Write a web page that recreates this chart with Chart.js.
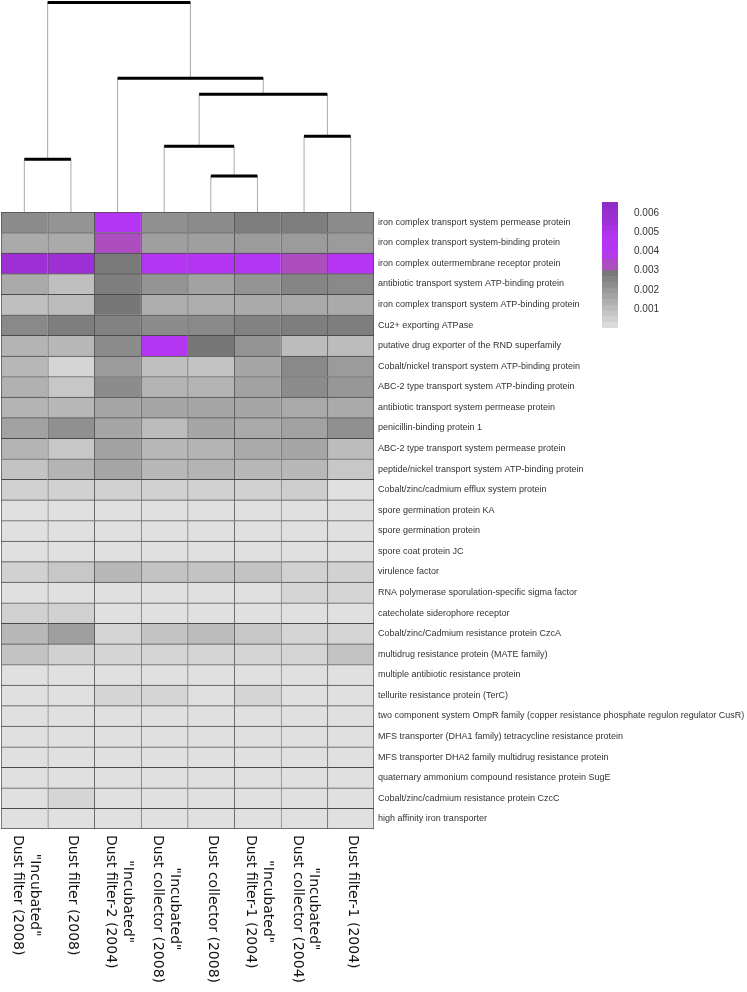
<!DOCTYPE html>
<html>
<head>
<meta charset="utf-8">
<script src="https://cdn.jsdelivr.net/npm/chart.js@4.4.1/dist/chart.umd.min.js"></script>
<style>
html,body{margin:0;padding:0;background:#fff;}
#wrap{position:relative;width:747px;height:992px;overflow:hidden;}
.layer{position:absolute;left:0;top:0;width:747px;height:992px;}
canvas{display:block;}
</style>
</head>
<body>
<div id="wrap">
  <div class="layer"><canvas id="heat" width="747" height="992"></canvas></div>
  <div class="layer"><canvas id="dend" width="747" height="992"></canvas></div>
  <div class="layer"><canvas id="scale" width="747" height="992"></canvas></div>
</div>
<script>
// ---------------- DATA ----------------
const sampleLabels = [
  ['"Incubated"', 'Dust filter (2008)'],
  ['Dust filter (2008)'],
  ['"Incubated"', 'Dust filter-2 (2004)'],
  ['"Incubated"', 'Dust collector (2008)'],
  ['Dust collector (2008)'],
  ['"Incubated"', 'Dust filter-1 (2004)'],
  ['"Incubated"', 'Dust collector (2004)'],
  ['Dust filter-1 (2004)']
];

const geneLabels = [
  'iron complex transport system permease protein',
  'iron complex transport system-binding protein',
  'iron complex outermembrane receptor protein',
  'antibiotic transport system ATP-binding protein',
  'iron complex transport system ATP-binding protein',
  'Cu2+ exporting ATPase',
  'putative drug exporter of the RND superfamily',
  'Cobalt/nickel transport system ATP-binding protein',
  'ABC-2 type transport system ATP-binding protein',
  'antibiotic transport system permease protein',
  'penicillin-binding protein 1',
  'ABC-2 type transport system permease protein',
  'peptide/nickel transport system ATP-binding protein',
  'Cobalt/zinc/cadmium efflux system protein',
  'spore germination protein KA',
  'spore germination protein',
  'spore coat protein JC',
  'virulence factor',
  'RNA polymerase sporulation-specific sigma factor',
  'catecholate siderophore receptor',
  'Cobalt/zinc/Cadmium resistance protein CzcA',
  'multidrug resistance protein (MATE family)',
  'multiple antibiotic resistance protein',
  'tellurite resistance protein (TerC)',
  'two component system OmpR family (copper resistance phosphate regulon regulator CusR)',
  'MFS transporter (DHA1 family) tetracycline resistance protein',
  'MFS transporter DHA2 family multidrug resistance protein',
  'quaternary ammonium compound resistance protein SugE',
  'Cobalt/zinc/cadmium resistance protein CzcC',
  'high affinity iron transporter'
];

// relative abundance per sample (column), one value per gene (row order above)
const incDustFilter2008 = [0.0023,0.0015,0.0057,0.0015,0.0009,0.0024,0.0012,0.0011,0.0013,0.0012,0.0017,0.0012,0.0008,0.0004,0,0,0,0.0004,0,0.0004,0.0011,0.0008,0,0,0,0,0,0,0,0];
const dustFilter2008    = [0.0021,0.0015,0.0057,0.0009,0.0010,0.0027,0.0011,0.0003,0.0007,0.0011,0.0022,0.0007,0.0012,0.0004,0,0,0,0.0007,0,0.0004,0.0018,0.0004,0,0,0,0,0,0,0.0003,0];
const incDustFilter2_2004 = [0.0045,0.0033,0.0028,0.0027,0.0029,0.0026,0.0023,0.0019,0.0023,0.0016,0.0016,0.0017,0.0016,0.0004,0,0,0,0.0011,0,0,0.0003,0.0003,0,0.0003,0,0,0,0,0,0];
const incDustCollector2008 = [0.0022,0.0018,0.0045,0.0021,0.0014,0.0023,0.0043,0.0009,0.0012,0.0016,0.0010,0.0011,0.0011,0.0004,0,0,0,0.0008,0,0,0.0008,0.0003,0,0.0003,0,0,0,0,0,0];
const dustCollector2008 = [0.0023,0.0018,0.0046,0.0017,0.0014,0.0024,0.0029,0.0008,0.0012,0.0016,0.0016,0.0012,0.0012,0.0004,0,0,0,0.0008,0,0,0.0010,0.0003,0,0,0,0,0,0,0,0];
const incDustFilter1_2004 = [0.0027,0.0019,0.0045,0.0021,0.0015,0.0026,0.0021,0.0016,0.0017,0.0016,0.0015,0.0015,0.0011,0.0004,0,0,0,0.0008,0,0,0.0007,0.0003,0,0.0003,0,0,0,0,0,0];
const incDustCollector2004 = [0.0027,0.0019,0.0033,0.0025,0.0015,0.0027,0.0010,0.0024,0.0023,0.0015,0.0017,0.0016,0.0011,0.0005,0,0,0,0.0004,0.0003,0,0.0003,0.0003,0,0,0,0,0,0,0,0];
const dustFilter1_2004  = [0.0023,0.0019,0.0044,0.0024,0.0015,0.0027,0.0010,0.0019,0.0020,0.0015,0.0022,0.0010,0.0007,0,0,0,0,0.0004,0.0003,0,0.0003,0.0008,0,0,0,0,0,0,0,0];

const sampleValues = [incDustFilter2008, dustFilter2008, incDustFilter2_2004, incDustCollector2008,
                      dustCollector2008, incDustFilter1_2004, incDustCollector2004, dustFilter1_2004];

// column dendrogram (hclust style: negative = leaf number, positive = earlier merge)
const mergeA = [-5, -4, -7, -1, 2, -3, 4];
const mergeB = [-6,  1, -8, -2, 3,  5, 6];
const mergeHeight = [0.36, 0.66, 0.76, 0.53, 1.18, 1.34, 2.10];

// colour key
const keyTicks = [0.001, 0.002, 0.003, 0.004, 0.005, 0.006];
const keyMax = 0.0066;
const keyStep = 0.0003;

// ---------------- COLOURS ----------------
const purpleStops = [
  [0.0030, [168, 84, 182]],
  [0.0036, [176, 70, 202]],
  [0.0038, [180, 56, 240]],
  [0.0047, [181, 52, 245]],
  [0.0055, [160, 48, 216]],
  [0.0066, [142, 42, 196]]
];
function colorFor(v) {
  if (v < 0.003) {
    const L = Math.round(224 - (v / 0.003) * 109);
    return `rgb(${L},${L},${L})`;
  }
  for (let i = 1; i < purpleStops.length; i++) {
    if (v <= purpleStops[i][0]) {
      const [v0, c0] = purpleStops[i - 1], [v1, c1] = purpleStops[i];
      const t = (v - v0) / (v1 - v0);
      const c = c0.map((a, k) => Math.round(a + (c1[k] - a) * t));
      return `rgb(${c[0]},${c[1]},${c[2]})`;
    }
  }
  const c = purpleStops[purpleStops.length - 1][1];
  return `rgb(${c[0]},${c[1]},${c[2]})`;
}

Chart.defaults.font.family = '"Liberation Sans", Arial, sans-serif';
Chart.defaults.animation = false;

// ---------------- HEATMAP ----------------
const GRID_LEFT = 1, GRID_RIGHT = 374, GRID_TOP = 212, GRID_BOTTOM = 829, W = 747, H = 992;

const colLabelPlugin = {
  id: 'colLabels',
  afterDraw(chart) {
    const ctx = chart.ctx, xs = chart.scales.x;
    ctx.save();
    ctx.font = '14px "DejaVu Sans", sans-serif';
    ctx.fillStyle = '#111';
    ctx.textAlign = 'center';
    ctx.textBaseline = 'middle';
    sampleLabels.forEach((lines, c) => {
      const cx = xs.getPixelForValue(c + 0.5);
      const maxW = Math.max(...lines.map(l => ctx.measureText(l).width));
      const cy = GRID_BOTTOM + 6 + maxW / 2;
      const offs = lines.length === 1 ? [1.5] : [10, -6.5];
      lines.forEach((line, i) => {
        ctx.save();
        ctx.translate(cx + offs[i], cy);
        ctx.rotate(Math.PI / 2);
        ctx.fillText(line, 0, 0);
        ctx.restore();
      });
    });
    ctx.restore();
  }
};

new Chart(document.getElementById('heat'), {
  type: 'bar',
  data: {
    labels: geneLabels,
    datasets: sampleValues.map((vals, c) => ({
      label: sampleLabels[c].join(' '),
      data: vals.map(() => [c, c + 1]),
      backgroundColor: vals.map(colorFor),
      borderColor: '#4a4a4a',
      borderWidth: (ctx) => ({ left: 1, top: 1, right: c === 7 ? 1 : 0, bottom: ctx.dataIndex === vals.length - 1 ? 1 : 0 }),
      borderSkipped: false,
      grouped: false,
      barPercentage: 1,
      categoryPercentage: 1
    }))
  },
  options: {
    indexAxis: 'y',
    responsive: false,
    layout: { padding: { left: GRID_LEFT, top: GRID_TOP, bottom: H - GRID_BOTTOM, right: 0 } },
    plugins: { legend: { display: false }, tooltip: { enabled: false } },
    scales: {
      x: { type: 'linear', min: 0, max: 8, display: false },
      y: {
        type: 'category',
        position: 'right',
        grid: { display: false, drawTicks: false },
        border: { display: false },
        ticks: { autoSkip: false, padding: 4, color: '#333', font: { size: 9 } },
        afterFit: (axis) => { axis.width = W - GRID_RIGHT; }
      }
    }
  },
  plugins: [colLabelPlugin]
});

// ---------------- DENDROGRAM ----------------
function nodeX(id) { return id < 0 ? (-id - 0.5) : mergeX[id - 1]; }
function nodeH(id) { return id < 0 ? 0 : mergeHeight[id - 1]; }
const mergeX = [];
const dendSets = [];
mergeA.forEach((a, i) => {
  const b = mergeB[i], h = mergeHeight[i];
  const xa = nodeX(a), xb = nodeX(b);
  mergeX.push((xa + xb) / 2);
  [[xa, nodeH(a)], [xb, nodeH(b)]].forEach(([x, y0]) => {
    dendSets.push({ data: [{ x, y: y0 }, { x, y: h }], borderColor: '#a9a9a9', borderWidth: 1, order: 2 });
  });
  dendSets.push({ data: [{ x: xa, y: h }, { x: xb, y: h }], borderColor: '#000', borderWidth: 3, order: 1 });
});
dendSets.forEach(d => { d.showLine = true; d.pointRadius = 0; d.clip = false; d.borderCapStyle = 'butt'; });

new Chart(document.getElementById('dend'), {
  type: 'scatter',
  data: { datasets: dendSets },
  options: {
    responsive: false,
    layout: { padding: { left: GRID_LEFT, right: W - GRID_RIGHT, top: 2.5, bottom: H - GRID_TOP } },
    plugins: { legend: { display: false }, tooltip: { enabled: false } },
    scales: {
      x: { type: 'linear', min: 0, max: 8, display: false },
      y: { type: 'linear', min: 0, max: mergeHeight[mergeHeight.length - 1], display: false }
    }
  }
});

// ---------------- COLOUR KEY ----------------
const keyBands = [];
for (let lo = 0; lo < keyMax - 1e-9; lo += keyStep) keyBands.push([lo, Math.min(lo + keyStep, keyMax)]);
const KEY_L = 602, KEY_R = 618, KEY_T = 202, KEY_B = 328, KEY_AXIS = 50;

new Chart(document.getElementById('scale'), {
  type: 'bar',
  data: {
    labels: ['key'],
    datasets: keyBands.map(([lo, hi]) => ({
      data: [[lo, hi]],
      backgroundColor: colorFor((lo + hi) / 2),
      borderWidth: 0,
      grouped: false,
      barPercentage: 1,
      categoryPercentage: 1
    }))
  },
  options: {
    responsive: false,
    layout: { padding: { left: KEY_L, right: W - KEY_R - KEY_AXIS, top: KEY_T, bottom: H - KEY_B } },
    plugins: { legend: { display: false }, tooltip: { enabled: false } },
    scales: {
      x: { display: false },
      y: {
        type: 'linear', min: 0, max: keyMax, position: 'right',
        grid: { display: false, drawTicks: false },
        border: { display: false },
        afterBuildTicks: (axis) => { axis.ticks = keyTicks.map(v => ({ value: v })); },
        ticks: { padding: 16, color: '#333', font: { size: 10 }, callback: (v) => Number(v).toFixed(3) },
        afterFit: (axis) => { axis.width = KEY_AXIS; }
      }
    }
  }
});
</script>
</body>
</html>
